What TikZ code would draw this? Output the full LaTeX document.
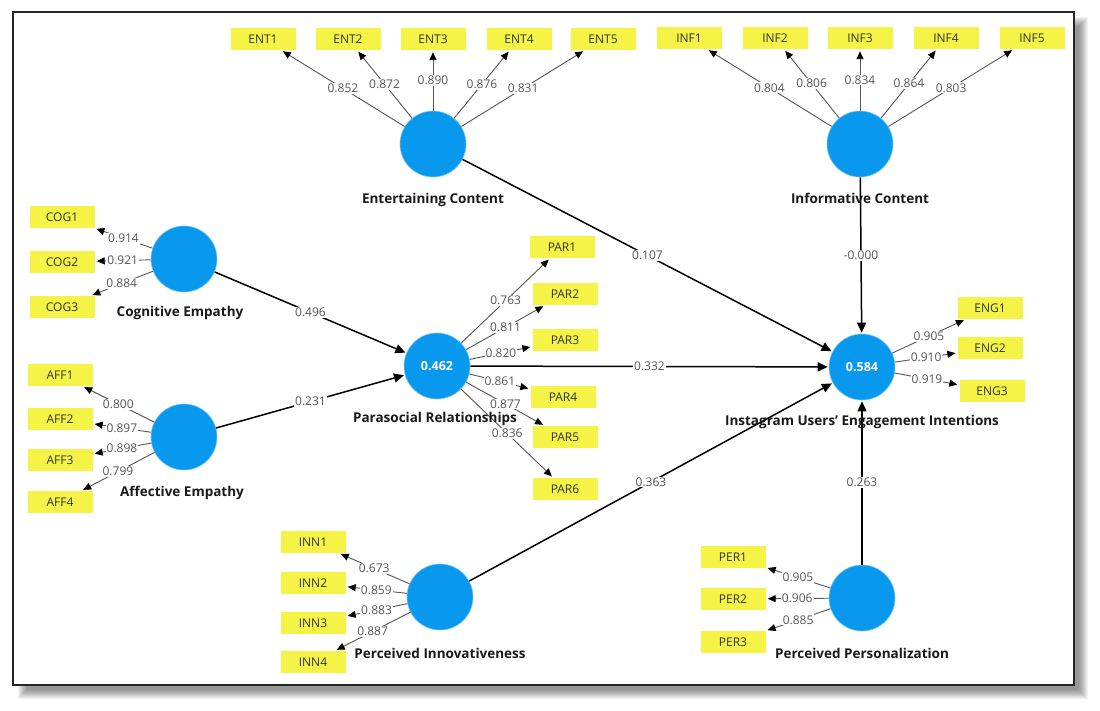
\documentclass[tikz,border=0pt]{standalone}
\usepackage{fontspec}
\setmainfont{Open Sans}
\usetikzlibrary{arrows.meta}
\definecolor{lvblue}{RGB}{8,152,238}
\definecolor{mvyellow}{RGB}{245,243,70}
\definecolor{loadgray}{RGB}{85,85,85}
\begin{document}
\begin{tikzpicture}[x=1pt,y=-1pt,
 lv/.style={circle,fill=lvblue,draw=lvblue!55!white,line width=0.6pt,minimum size=66pt,inner sep=0pt,text=white,font=\bfseries\fontsize{12.5}{14}\selectfont},
 mv/.style={rectangle,fill=mvyellow,minimum width=65pt,minimum height=22pt,inner sep=0pt,font=\fontsize{12}{14}\selectfont,text=black!80},
 ttl/.style={font=\bfseries\fontsize{13.5}{15}\selectfont,text=black!90},
 load/.style={draw=loadgray,line width=0.9pt,-{Triangle[length=8pt,width=7pt,color=black]},shorten >=2pt},
 lab/.style={fill=white,inner sep=1pt,text=loadgray,font=\fontsize{12}{14}\selectfont},
 struct/.style={draw=black,line width=1.5pt,-{Triangle[length=10pt,width=9pt]},shorten >=1pt},
]
\useasboundingbox (0,0) rectangle (1100,711);
% frame with drop shadow
\foreach \k in {0,...,9} \fill[black,opacity=0.05] (18+\k,17+\k) rectangle (1088-\k,699-\k);
\fill[white] (13,12) rectangle (1074,685);
\draw[line width=2pt,black!85] (13,12) rectangle (1074,685);

% latent variables
\node[lv] (ENT) at (433,144) {};
\node[lv] (INF) at (860,144) {};
\node[lv] (COG) at (184,259) {};
\node[lv] (AFF) at (184,437) {};
\node[lv] (PAR) at (437,366) {0.462};
\node[lv] (ENG) at (862,367) {0.584};
\node[lv] (INN) at (440,597) {};
\node[lv] (PER) at (862,598) {};

% indicators
\node[mv] (ENT1) at (263,39) {ENT1};
\node[mv] (ENT2) at (348,39) {ENT2};
\node[mv] (ENT3) at (433,39) {ENT3};
\node[mv] (ENT4) at (519,39) {ENT4};
\node[mv] (ENT5) at (603,39) {ENT5};
\node[mv] (INF1) at (689,38) {INF1};
\node[mv] (INF2) at (775,38) {INF2};
\node[mv] (INF3) at (860,38) {INF3};
\node[mv] (INF4) at (946,38) {INF4};
\node[mv] (INF5) at (1032,38) {INF5};
\node[mv] (COG1) at (62,217) {COG1};
\node[mv] (COG2) at (62,262) {COG2};
\node[mv] (COG3) at (62,307) {COG3};
\node[mv] (AFF1) at (60,375) {AFF1};
\node[mv] (AFF2) at (60,419) {AFF2};
\node[mv] (AFF3) at (60,460) {AFF3};
\node[mv] (AFF4) at (60,502) {AFF4};
\node[mv] (PAR1) at (562,247) {PAR1};
\node[mv] (PAR2) at (565,294) {PAR2};
\node[mv] (PAR3) at (565,340) {PAR3};
\node[mv] (PAR4) at (563,397) {PAR4};
\node[mv] (PAR5) at (565,437) {PAR5};
\node[mv] (PAR6) at (565,489) {PAR6};
\node[mv] (ENG1) at (990,308) {ENG1};
\node[mv] (ENG2) at (990,348) {ENG2};
\node[mv] (ENG3) at (992,391) {ENG3};
\node[mv] (INN1) at (313,542) {INN1};
\node[mv] (INN2) at (313,583) {INN2};
\node[mv] (INN3) at (313,623) {INN3};
\node[mv] (INN4) at (313,662) {INN4};
\node[mv] (PER1) at (733,557) {PER1};
\node[mv] (PER2) at (733,599) {PER2};
\node[mv] (PER3) at (733,642) {PER3};

% loadings
\draw[load] (ENT) -- node[lab]{0.852} (ENT1);
\draw[load] (ENT) -- node[lab]{0.872} (ENT2);
\draw[load] (ENT) -- node[lab]{0.890} (ENT3);
\draw[load] (ENT) -- node[lab]{0.876} (ENT4);
\draw[load] (ENT) -- node[lab]{0.831} (ENT5);
\draw[load] (INF) -- node[lab]{0.804} (INF1);
\draw[load] (INF) -- node[lab]{0.806} (INF2);
\draw[load] (INF) -- node[lab]{0.834} (INF3);
\draw[load] (INF) -- node[lab]{0.864} (INF4);
\draw[load] (INF) -- node[lab]{0.803} (INF5);
\draw[load] (COG) -- node[lab]{0.914} (COG1);
\draw[load] (COG) -- node[lab]{0.921} (COG2);
\draw[load] (COG) -- node[lab]{0.884} (COG3);
\draw[load] (AFF) -- node[lab]{0.800} (AFF1);
\draw[load] (AFF) -- node[lab]{0.897} (AFF2);
\draw[load] (AFF) -- node[lab]{0.898} (AFF3);
\draw[load] (AFF) -- node[lab]{0.799} (AFF4);
\draw[load] (PAR) -- node[lab]{0.763} (PAR1);
\draw[load] (PAR) -- node[lab]{0.811} (PAR2);
\draw[load] (PAR) -- node[lab]{0.820} (PAR3);
\draw[load] (PAR) -- node[lab]{0.861} (PAR4);
\draw[load] (PAR) -- node[lab]{0.877} (PAR5);
\draw[load] (PAR) -- node[lab]{0.836} (PAR6);
\draw[load] (ENG) -- node[lab]{0.905} (ENG1);
\draw[load] (ENG) -- node[lab]{0.910} (ENG2);
\draw[load] (ENG) -- node[lab]{0.919} (ENG3);
\draw[load] (INN) -- node[lab]{0.673} (INN1);
\draw[load] (INN) -- node[lab]{0.859} (INN2);
\draw[load] (INN) -- node[lab]{0.883} (INN3);
\draw[load] (INN) -- node[lab]{0.887} (INN4);
\draw[load] (PER) -- node[lab]{0.905} (PER1);
\draw[load] (PER) -- node[lab]{0.906} (PER2);
\draw[load] (PER) -- node[lab]{0.885} (PER3);

% structural paths
\draw[struct] (COG) -- node[lab]{0.496} (PAR);
\draw[struct] (AFF) -- node[lab]{0.231} (PAR);
\draw[struct] (ENT) -- node[lab]{0.107} (ENG);
\draw[struct] (INF) -- node[lab]{-0.000} (ENG);
\draw[struct] (PAR) -- node[lab]{0.332} (ENG);
\draw[struct] (INN) -- node[lab]{0.363} (ENG);
\draw[struct] (PER) -- node[lab]{0.263} (ENG);

% titles
\node[ttl] (tENT) at (433,200) {Entertaining Content};
\node[ttl] (tINF) at (860,198) {Informative Content};
\node[ttl] (tCOG) at (180,313) {Cognitive Empathy};
\node[ttl] (tAFF) at (182,493) {Affective Empathy};
\node[ttl] (tPAR) at (435,419) {Parasocial Relationships};
\node[ttl] (tENG) at (862,422) {Instagram Users' Engagement Intentions};
\node[ttl] (tINN) at (440,653) {Perceived Innovativeness};
\node[ttl] (tPER) at (862,653) {Perceived Personalization};
\end{tikzpicture}
\end{document}
